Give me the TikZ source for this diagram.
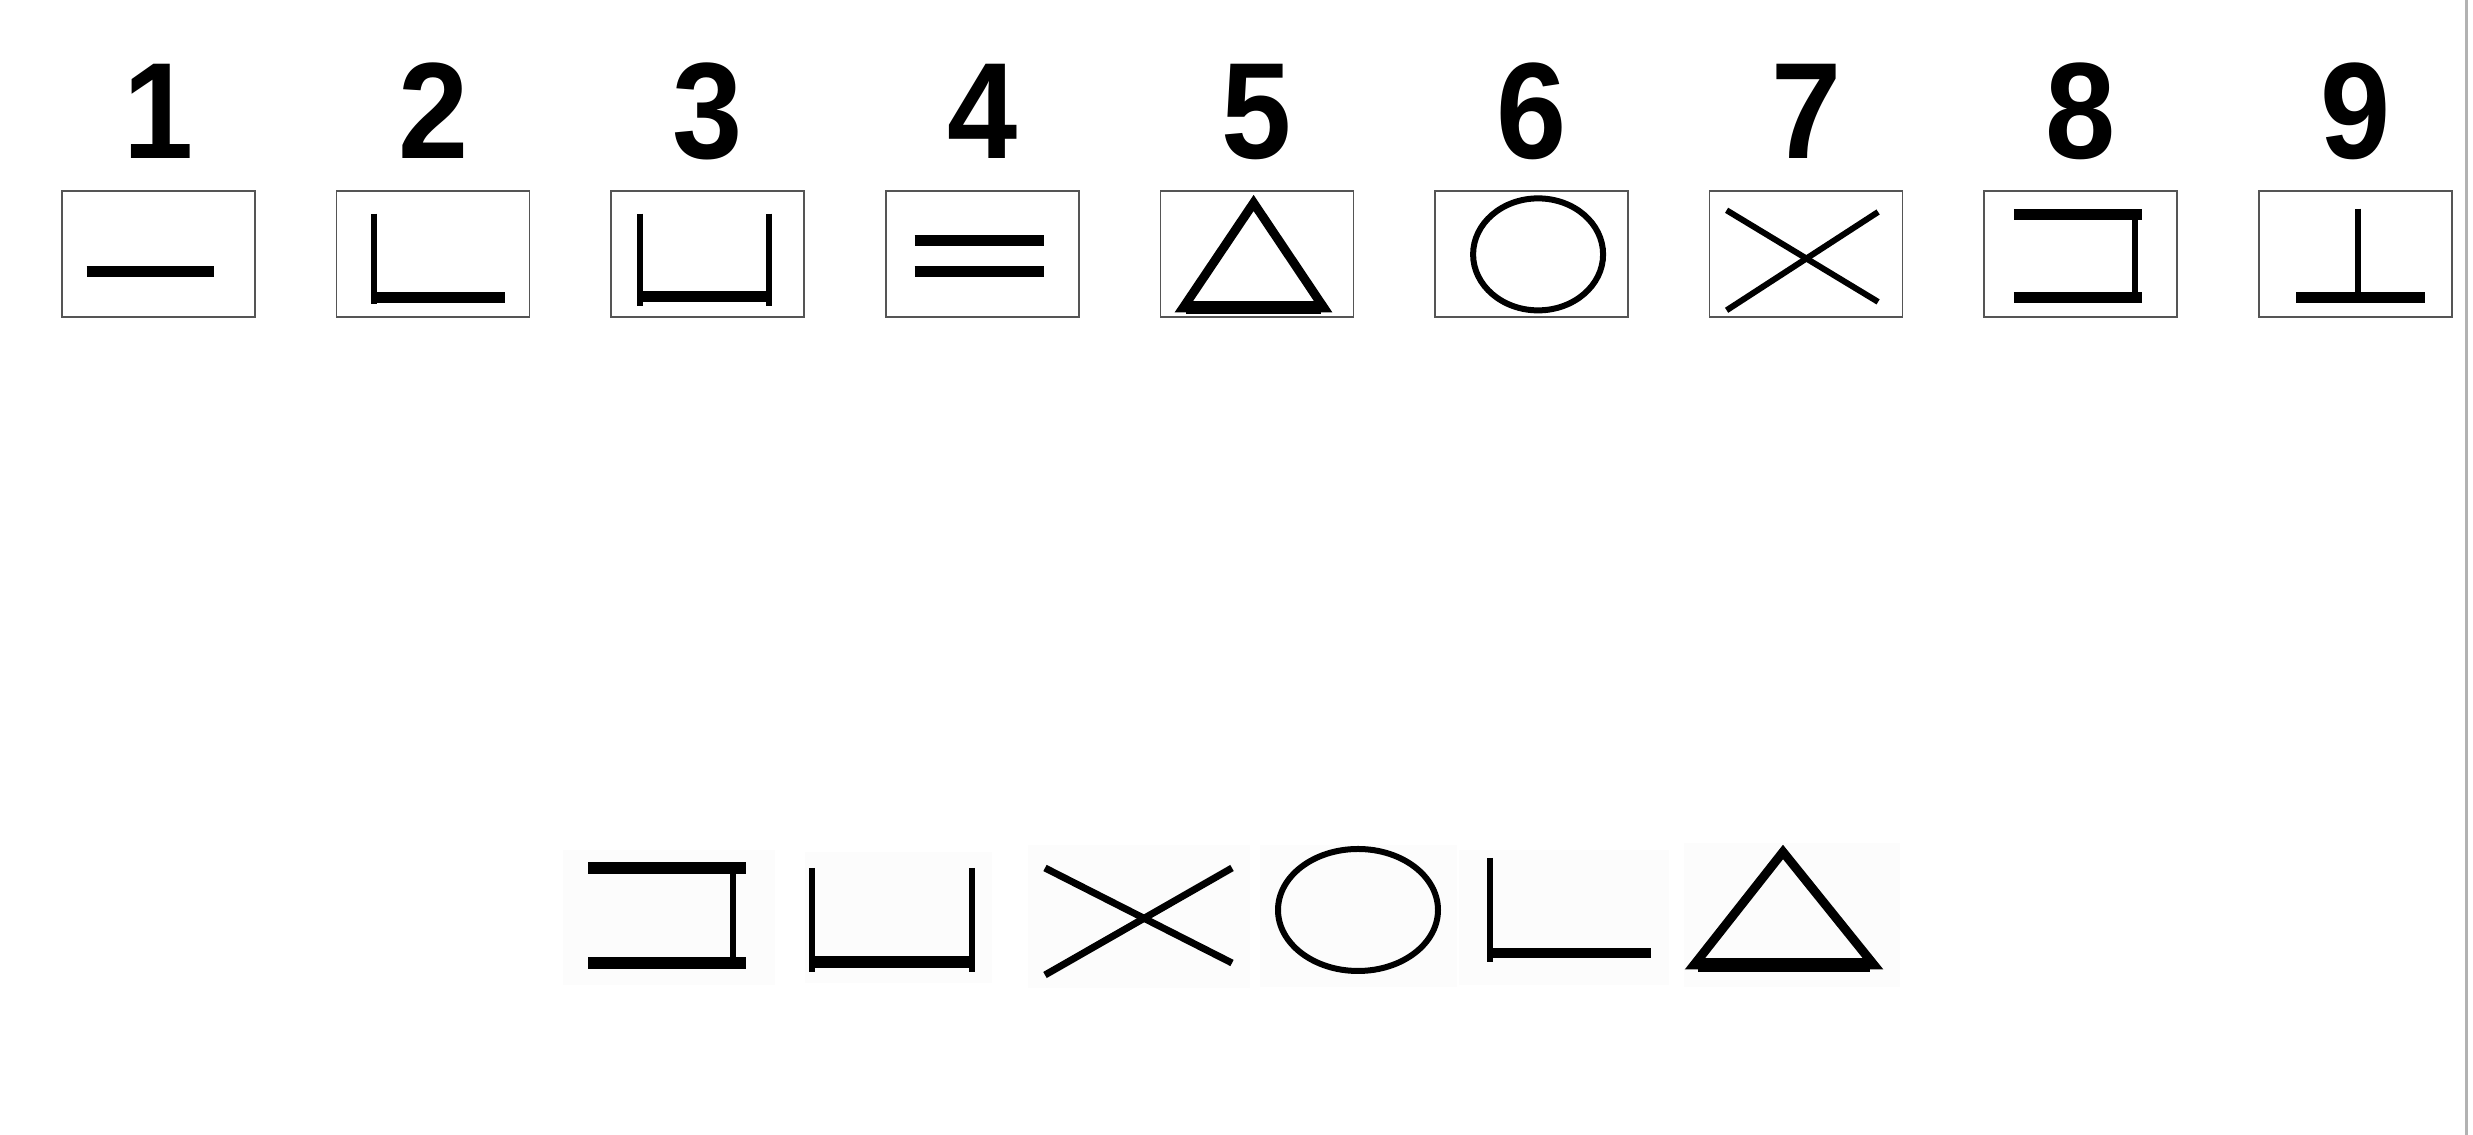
\documentclass[tikz,border=0pt]{standalone}
\usepackage{fontspec}
\newfontfamily\numfont[FakeStretch=0.92]{Liberation Sans}
\definecolor{FrameGray}{HTML}{555555}

\begin{document}
\begin{tikzpicture}[
    symbox/.style={draw=FrameGray, line width=0.45pt, fill=white, minimum width=1.93cm, minimum height=1.26cm, inner sep=0pt},
    numlabel/.style={anchor=base, font=\numfont\bfseries\fontsize{39}{40}\selectfont},
    heavy/.style={line width=0.11cm},
    light/.style={line width=0.06cm},
    shade/.style={fill=black!1}
]
    \useasboundingbox (0,0) rectangle (24.73,11.35);

    % Key boxes
    \node[symbox] (box1) at (1.585,8.81) {};
    \node[symbox] (box2) at (4.331,8.81) {};
    \node[symbox] (box3) at (7.077,8.81) {};
    \node[symbox] (box4) at (9.823,8.81) {};
    \node[symbox] (box5) at (12.569,8.81) {};
    \node[symbox] (box6) at (15.315,8.81) {};
    \node[symbox] (box7) at (18.061,8.81) {};
    \node[symbox] (box8) at (20.807,8.81) {};
    \node[symbox] (box9) at (23.553,8.81) {};

    % Numbers above the boxes
    \node[numlabel] (num1) at (1.585,9.76) {1};
    \node[numlabel] (num2) at (4.331,9.76) {2};
    \node[numlabel] (num3) at (7.077,9.76) {3};
    \node[numlabel] (num4) at (9.823,9.76) {4};
    \node[numlabel] (num5) at (12.569,9.76) {5};
    \node[numlabel] (num6) at (15.315,9.76) {6};
    \node[numlabel] (num7) at (18.061,9.76) {7};
    \node[numlabel] (num8) at (20.807,9.76) {8};
    \node[numlabel] (num9) at (23.553,9.76) {9};

    % 1: single bar
    \draw[heavy] (0.865,8.636) -- (2.143,8.636);

    % 2: corner
    \draw[light] (3.740,9.213) -- (3.740,8.314);
    \draw[heavy] (3.740,8.373) -- (5.053,8.373);

    % 3: cup
    \draw[light] (6.400,9.213) -- (6.400,8.287);
    \draw[light] (7.689,9.213) -- (7.689,8.287);
    \draw[heavy] (6.400,8.387) -- (7.689,8.387);

    % 4: double bar
    \draw[heavy] (9.146,8.940) -- (10.435,8.940);
    \draw[heavy] (9.146,8.636) -- (10.435,8.636);

    % 5: triangle
    \draw[line width=0.09cm] (12.536,9.32) -- (11.83,8.27) -- (13.24,8.27) -- cycle;
    \draw[line width=0.13cm] (11.86,8.27) -- (13.21,8.27);

    % 6: ring
    \draw[light] (15.381,8.806) ellipse (0.65cm and 0.56cm);

    % 7: cross
    \draw[line width=0.06cm] (17.266,9.247) -- (18.781,8.331);
    \draw[line width=0.06cm] (17.266,8.247) -- (18.781,9.230);

    % 8: bracket
    \draw[heavy] (20.139,9.203) -- (21.415,9.203);
    \draw[heavy] (20.139,8.373) -- (21.415,8.373);
    \draw[light] (21.347,9.203) -- (21.347,8.373);

    % 9: upturned T
    \draw[light] (23.582,9.264) -- (23.582,8.373);
    \draw[heavy] (22.960,8.373) -- (24.252,8.373);

    % Sequence row, faint tiles behind each sign
    \fill[shade] (5.63,1.50) rectangle (7.75,2.85);
    \fill[shade] (8.05,1.52) rectangle (9.92,2.83);
    \fill[shade] (10.28,1.47) rectangle (12.50,2.90);
    \fill[shade] (12.60,1.48) rectangle (14.57,2.90);
    \fill[shade] (14.59,1.50) rectangle (16.69,2.85);
    \fill[shade] (16.84,1.48) rectangle (19.00,2.92);

    % bracket
    \draw[line width=0.12cm] (5.88,2.67) -- (7.46,2.67);
    \draw[line width=0.12cm] (5.88,1.72) -- (7.46,1.72);
    \draw[line width=0.06cm] (7.33,2.67) -- (7.33,1.72);

    % cup
    \draw[line width=0.06cm] (8.12,2.67) -- (8.12,1.63);
    \draw[line width=0.06cm] (9.72,2.67) -- (9.72,1.63);
    \draw[line width=0.12cm] (8.12,1.73) -- (9.72,1.73);

    % cross
    \draw[line width=0.07cm] (10.45,2.67) -- (12.32,1.72);
    \draw[line width=0.07cm] (10.45,1.60) -- (12.32,2.67);

    % ring
    \draw[line width=0.06cm] (13.58,2.25) ellipse (0.80cm and 0.61cm);

    % corner
    \draw[line width=0.06cm] (14.90,2.77) -- (14.90,1.73);
    \draw[line width=0.10cm] (14.90,1.82) -- (16.51,1.82);

    % triangle
    \draw[line width=0.09cm] (17.83,2.83) -- (16.94,1.70) -- (18.74,1.70) -- cycle;
    \draw[line width=0.14cm] (16.98,1.70) -- (18.70,1.70);

    % Page edge
    \draw[gray!60, line width=0.03cm] (24.66,0) -- (24.66,11.35);
\end{tikzpicture}
\end{document}
